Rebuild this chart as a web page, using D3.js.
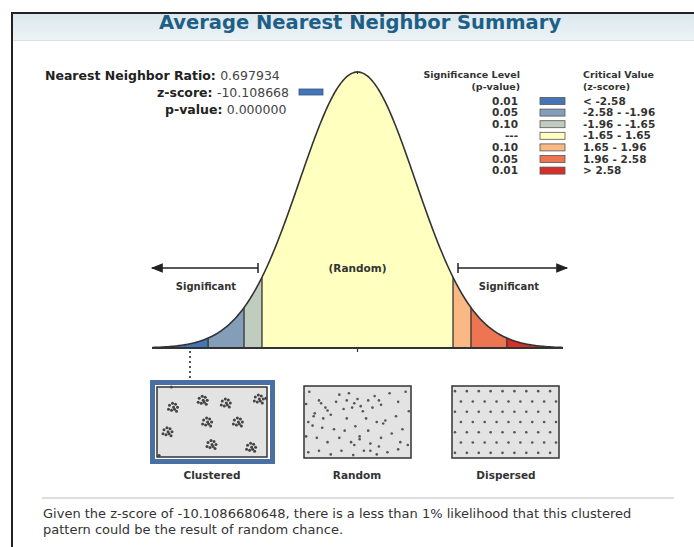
<!DOCTYPE html>
<html>
  <head>
    <title>Average Nearest Neighbor Summary</title>
    <script src="https://cdn.jsdelivr.net/npm/d3@7"></script>
    <style>
      body { margin: 0; background: #fff; }
      text { font-family: "DejaVu Sans", Verdana, sans-serif; }
    </style>
  </head>
  <body>
    <svg id="chart" width="694" height="547"></svg>
    <script>
      // summary values
      const statLabels = ["Nearest Neighbor Ratio:", "z-score:", "p-value:"];
      const statValues = ["0.697934", "-10.108668", "0.000000"];

      // z-score bands of the curve
      const zBreaks = [-2.58, -1.96, -1.65, 1.65, 1.96, 2.58];
      const bandColors = ["#4575b5", "#849eba", "#c0ccbe", "#ffffbf", "#fab984", "#ed7551", "#d62f27"];
      const pLevels = ["0.01", "0.05", "0.10", "---", "0.10", "0.05", "0.01"];
      const criticalLabels = ["< -2.58", "-2.58 - -1.96", "-1.96 - -1.65", "-1.65 - 1.65", "1.65 - 1.96", "1.96 - 2.58", "> 2.58"];

      const patternNames = ["Clustered", "Random", "Dispersed"];

      // point patterns, positions as fractions of each box
      const clusterCenters = [[0.15, 0.29], [0.42, 0.19], [0.63, 0.23], [0.93, 0.17], [0.74, 0.5],
        [0.46, 0.5], [0.1, 0.64], [0.5, 0.82], [0.86, 0.86]];
      const clusterOffsets = [[-4, -2], [-1, -4], [2, -3], [4, 0], [1, 2], [-2, 3], [3, 4], [-5, 2], [0, 0]];
      const clusterSingles = [[0.13, 0.0], [0.99, 0.16], [0.02, 0.98]];
      const randomPoints = [
        [0.05, 0.08], [0.14, 0.2], [0.2, 0.3], [0.1, 0.38], [0.25, 0.4], [0.3, 0.22], [0.37, 0.32],
        [0.42, 0.1], [0.45, 0.3], [0.5, 0.18], [0.55, 0.35], [0.6, 0.2], [0.66, 0.14], [0.72, 0.26],
        [0.8, 0.1], [0.88, 0.22], [0.95, 0.08], [0.98, 0.35], [0.86, 0.42], [0.76, 0.48], [0.68, 0.5],
        [0.6, 0.62], [0.48, 0.56], [0.38, 0.62], [0.28, 0.6], [0.17, 0.58], [0.08, 0.55], [0.02, 0.7],
        [0.12, 0.72], [0.22, 0.78], [0.33, 0.72], [0.44, 0.78], [0.52, 0.7], [0.62, 0.8], [0.72, 0.72],
        [0.82, 0.66], [0.92, 0.6], [0.97, 0.82], [0.88, 0.88], [0.78, 0.92], [0.68, 0.95], [0.56, 0.9],
        [0.46, 0.96], [0.35, 0.9], [0.25, 0.95], [0.14, 0.9], [0.04, 0.92], [0.33, 0.12], [0.58, 0.45],
        [0.9, 0.78], [0.7, 0.84], [0.18, 0.45], [0.4, 0.45], [0.02, 0.25], [0.64, 0.3],
        [0.16, 0.24], [0.22, 0.34], [0.4, 0.2], [0.47, 0.24], [0.53, 0.28], [0.7, 0.2], [0.74, 0.52],
        [0.52, 0.74], [0.47, 0.82], [0.09, 0.42], [0.04, 0.5], [0.62, 0.9]];
      const dispersedRows = 7;
      const dispersedCols = 9;

      const svg = d3.select("#chart");
      const defs = svg.append("defs");

      // frame and title bar
      const grad = defs.append("linearGradient")
        .attr("id", "bar").attr("x1", 0).attr("x2", 0).attr("y1", 0).attr("y2", 1);
      grad.append("stop").attr("offset", "0%").attr("stop-color", "#dbe7ee");
      grad.append("stop").attr("offset", "100%").attr("stop-color", "#edf3f6");
      svg.append("rect").attr("x", 12).attr("y", 13).attr("width", 682).attr("height", 27).attr("fill", "url(#bar)");
      svg.append("line").attr("x1", 12).attr("x2", 694).attr("y1", 40.5).attr("y2", 40.5).attr("stroke", "#d6e0e6");
      svg.append("path").attr("d", "M12,547V13H694").attr("fill", "none").attr("stroke", "#222").attr("stroke-width", 2);
      svg.append("text").attr("x", 360).attr("y", 29).attr("text-anchor", "middle")
        .attr("font-size", 19.5).attr("font-weight", "bold").attr("fill", "#1d5f86")
        .text("Average Nearest Neighbor Summary");

      // stats block
      const statX = [45, 157, 165];
      statLabels.forEach((lab, i) => {
        const t = svg.append("text").attr("x", statX[i]).attr("y", 80 + i * 17).attr("font-size", 12.5);
        t.append("tspan").attr("font-weight", "bold").attr("fill", "#222").text(lab + " ");
        t.append("tspan").attr("fill", "#444").text(statValues[i]);
      });
      svg.append("rect").attr("x", 299).attr("y", 89).attr("width", 24).attr("height", 6)
        .attr("fill", bandColors[0]).attr("stroke", "#2e558c").attr("stroke-width", 0.8);

      // normal curve
      const x = d3.scaleLinear().domain([-3.55, 3.55]).range([152, 563]);
      const pdf = z => Math.exp(-z * z / 2) / Math.sqrt(2 * Math.PI);
      const y = d3.scaleLinear().domain([0, pdf(0)]).range([348, 72]);
      const edges = [-3.55, ...zBreaks, 3.55];
      const area = d3.area().x(z => x(z)).y0(y(0)).y1(z => y(pdf(z)));

      const curve = svg.append("g");
      bandColors.forEach((c, i) => {
        const lo = edges[i], hi = edges[i + 1];
        const zs = d3.range(lo, hi, 0.02).concat([hi]);
        curve.append("path").attr("d", area(zs)).attr("fill", c);
      });
      curve.selectAll("line.div").data(zBreaks).join("line")
        .attr("x1", d => x(d)).attr("x2", d => x(d))
        .attr("y1", y(0)).attr("y2", d => y(pdf(d)))
        .attr("stroke", "#333").attr("stroke-width", 1.3);
      const line = d3.line().x(z => x(z)).y(z => y(pdf(z)));
      curve.append("path").attr("d", line(d3.range(-3.55, 3.56, 0.02)))
        .attr("fill", "none").attr("stroke", "#333").attr("stroke-width", 1.6);
      curve.append("line").attr("x1", x(-3.55)).attr("x2", x(3.55)).attr("y1", y(0)).attr("y2", y(0))
        .attr("stroke", "#333").attr("stroke-width", 1.8);
      curve.append("line").attr("x1", x(0)).attr("x2", x(0)).attr("y1", y(0)).attr("y2", y(0) + 4)
        .attr("stroke", "#333").attr("stroke-width", 1.2);
      curve.append("line").attr("x1", x(0)).attr("x2", x(0)).attr("y1", y(pdf(0)) - 1).attr("y2", y(pdf(0)) + 2)
        .attr("stroke", "#333").attr("stroke-width", 1.2);

      // significance arrows
      defs.append("marker").attr("id", "head").attr("viewBox", "0 0 10 10").attr("refX", 9).attr("refY", 5)
        .attr("markerWidth", 9).attr("markerHeight", 8).attr("orient", "auto-start-reverse")
        .append("path").attr("d", "M0,1L10,5L0,9z").attr("fill", "#222");
      const arrowY = 268;
      svg.append("line").attr("x1", 258).attr("x2", 152).attr("y1", arrowY).attr("y2", arrowY)
        .attr("stroke", "#222").attr("stroke-width", 1.5).attr("marker-end", "url(#head)");
      svg.append("line").attr("x1", 258).attr("x2", 258).attr("y1", arrowY - 5).attr("y2", arrowY + 5)
        .attr("stroke", "#222").attr("stroke-width", 1.5);
      svg.append("line").attr("x1", 458).attr("x2", 567).attr("y1", arrowY).attr("y2", arrowY)
        .attr("stroke", "#222").attr("stroke-width", 1.5).attr("marker-end", "url(#head)");
      svg.append("line").attr("x1", 458).attr("x2", 458).attr("y1", arrowY - 5).attr("y2", arrowY + 5)
        .attr("stroke", "#222").attr("stroke-width", 1.5);
      svg.append("text").attr("x", 206).attr("y", 290).attr("text-anchor", "middle").attr("font-size", 10)
        .attr("font-weight", "bold").attr("fill", "#333").text("Significant");
      svg.append("text").attr("x", 509).attr("y", 290).attr("text-anchor", "middle").attr("font-size", 10)
        .attr("font-weight", "bold").attr("fill", "#333").text("Significant");
      svg.append("text").attr("x", x(0)).attr("y", 272).attr("text-anchor", "middle").attr("font-size", 10.5)
        .attr("font-weight", "bold").attr("fill", "#333").text("(Random)");

      // legend
      const leg = svg.append("g");
      const legTop = 101, legStep = 11.6;
      leg.append("text").attr("x", 520).attr("y", 78).attr("text-anchor", "end").attr("font-size", 9.5)
        .attr("font-weight", "bold").attr("fill", "#333").text("Significance Level");
      leg.append("text").attr("x", 520).attr("y", 90).attr("text-anchor", "end").attr("font-size", 9.5)
        .attr("font-weight", "bold").attr("fill", "#333").text("(p-value)");
      leg.append("text").attr("x", 583).attr("y", 78).attr("font-size", 9.5)
        .attr("font-weight", "bold").attr("fill", "#333").text("Critical Value");
      leg.append("text").attr("x", 583).attr("y", 90).attr("font-size", 9.5)
        .attr("font-weight", "bold").attr("fill", "#333").text("(z-score)");
      const rows = leg.selectAll("g.row").data(bandColors).join("g")
        .attr("transform", (d, i) => `translate(0,${legTop + i * legStep})`);
      rows.append("text").attr("x", 518).attr("y", 3.5).attr("text-anchor", "end").attr("font-size", 10.5)
        .attr("font-weight", "bold").attr("fill", "#333").text((d, i) => pLevels[i]);
      rows.append("rect").attr("x", 540).attr("y", -3.5).attr("width", 25).attr("height", 7)
        .attr("fill", d => d).attr("stroke", "#555").attr("stroke-width", 0.8);
      rows.append("text").attr("x", 583).attr("y", 3.5).attr("font-size", 10.5)
        .attr("font-weight", "bold").attr("fill", "#333").text((d, i) => criticalLabels[i]);

      // pattern boxes
      const boxes = [
        { x: 157, y: 387, w: 110, h: 70, cx: 212 },
        { x: 304, y: 386, w: 107, h: 72, cx: 357 },
        { x: 452, y: 386, w: 107, h: 72, cx: 506 }
      ];
      svg.append("rect").attr("x", 152.5).attr("y", 382.5).attr("width", 120).attr("height", 79)
        .attr("fill", "none").attr("stroke", "#4a6fa5").attr("stroke-width", 5);
      boxes.forEach(b => {
        svg.append("rect").attr("x", b.x).attr("y", b.y).attr("width", b.w).attr("height", b.h)
          .attr("fill", "#e3e3e3").attr("stroke", "#333").attr("stroke-width", 1.5);
      });
      svg.selectAll("text.pat").data(patternNames).join("text")
        .attr("x", (d, i) => boxes[i].cx).attr("y", 479).attr("text-anchor", "middle")
        .attr("font-size", 10.5).attr("font-weight", "bold").attr("fill", "#333").text(d => d);

      const dot = (b, fx, fy, dx = 0, dy = 0) => [b.x + fx * b.w + dx, b.y + fy * b.h + dy];
      const clustered = [];
      clusterCenters.forEach(c => clusterOffsets.forEach(o => clustered.push(dot(boxes[0], c[0], c[1], o[0], o[1]))));
      clusterSingles.forEach(c => clustered.push(dot(boxes[0], c[0], c[1])));
      const randomPts = randomPoints.map(p => dot(boxes[1], p[0], p[1]));
      const dispersedPts = [];
      d3.range(dispersedRows).forEach(r => d3.range(dispersedCols).forEach(c => {
        const fx = (c + (r % 2 ? 0.75 : 0.25)) / dispersedCols;
        const fy = (r + 0.5) / dispersedRows;
        dispersedPts.push(dot(boxes[2], fx, fy));
      }));
      svg.append("g").selectAll("circle").data(clustered).join("circle")
        .attr("cx", d => d[0]).attr("cy", d => d[1]).attr("r", 1.5).attr("fill", "#444");
      svg.append("g").selectAll("circle").data(randomPts.concat(dispersedPts)).join("circle")
        .attr("cx", d => d[0]).attr("cy", d => d[1]).attr("r", 1.3).attr("fill", "#555");

      // z-score pointer down to the clustered box
      svg.append("line").attr("x1", 190).attr("x2", 190).attr("y1", 351).attr("y2", 380)
        .attr("stroke", "#555").attr("stroke-width", 2).attr("stroke-dasharray", "2,3");

      // footer
      svg.append("line").attr("x1", 42).attr("x2", 674).attr("y1", 498).attr("y2", 498)
        .attr("stroke", "#d4d4d4").attr("stroke-width", 1.5);
      const foot = svg.append("text").attr("font-size", 13).attr("fill", "#333");
      foot.append("tspan").attr("x", 43).attr("y", 518)
        .text("Given the z-score of -10.1086680648, there is a less than 1% likelihood that this clustered");
      foot.append("tspan").attr("x", 43).attr("y", 534)
        .text("pattern could be the result of random chance.");
    </script>
  </body>
</html>
